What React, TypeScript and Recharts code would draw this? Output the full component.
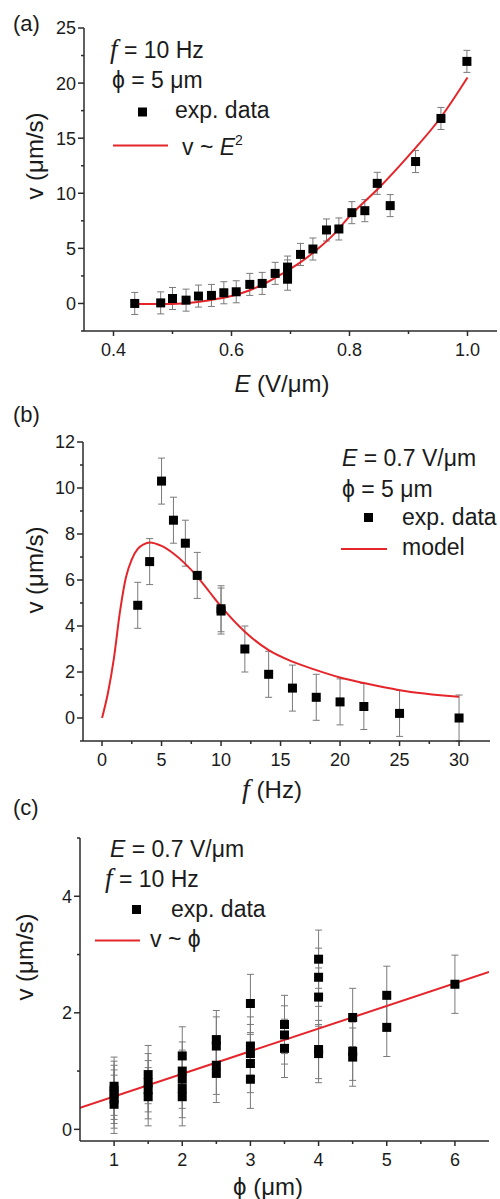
import { ComposedChart, Scatter, Line, XAxis, YAxis, ErrorBar } from 'recharts'

const RED = '#e4262b'
const INK = '#1b1b1b'
const AXIS = '#2b2b2b'
const BAR = '#7a7a7a'
const SANS = '"Liberation Sans", Arial, "DejaVu Sans", sans-serif'
const SERIF = '"Liberation Serif", "Times New Roman", serif'

// (a) v vs E, f = 10 Hz, phi = 5 um
const E_A = [0.436, 0.48, 0.5, 0.523, 0.544, 0.566, 0.587, 0.608, 0.631, 0.652, 0.674, 0.695, 0.695, 0.695, 0.717, 0.738, 0.761, 0.782, 0.804, 0.826, 0.847, 0.869, 0.912, 0.955, 0.999]
const V_A = [0, 0.05, 0.45, 0.3, 0.67, 0.73, 0.97, 1.06, 1.73, 1.82, 2.73, 3.3, 2.95, 2.2, 4.45, 4.94, 6.67, 6.76, 8.24, 8.42, 10.9, 8.88, 12.88, 16.79, 21.97]
const ERR_A = [1, 1, 1, 1, 1, 1, 1, 1, 1, 1, 1, 1, 1, 1, 1, 1, 1, 1, 1, 1, 1, 1, 1, 1, 1]
const FIT_E = [0.436, 0.478, 0.518, 0.546, 0.574, 0.602, 0.631, 0.659, 0.687, 0.716, 0.744, 0.772, 0.8, 0.85, 0.9, 0.955, 1.0]
const FIT_V = [-0.06, -0.06, 0, 0.15, 0.4, 0.7, 1.2, 1.88, 2.73, 3.7, 4.85, 6.2, 7.9, 10.5, 13.4, 16.9, 20.5]
const XA_MAJOR = [0.4, 0.6, 0.8, 1.0]
const XA_MINOR = [0.5, 0.7, 0.9]
const YA_MAJOR = [0, 5, 10, 15, 20, 25]
const YA_MINOR = [-2.5, 2.5, 7.5, 12.5, 17.5, 22.5]

// (b) v vs f, E = 0.7 V/um, phi = 5 um
const F_B = [3, 4, 5, 6, 7, 8, 10, 10, 12, 14, 16, 18, 20, 22, 25, 30]
const V_B = [4.9, 6.8, 10.3, 8.6, 7.6, 6.2, 4.75, 4.65, 3.0, 1.9, 1.3, 0.9, 0.7, 0.5, 0.2, 0.0]
const ERR_B = [1, 1, 1, 1, 1, 1, 1, 1, 1, 1, 1, 1, 1, 1, 1, 1]
const MODEL_F = [0, 0.5, 1, 1.5, 2, 2.5, 3, 3.5, 4, 5, 6, 7, 8, 9, 10, 12, 14, 16, 18, 20, 22, 25, 30]
const MODEL_V = [0, 1.1, 2.6, 4.6, 6.1, 6.9, 7.35, 7.55, 7.63, 7.48, 7.15, 6.7, 6.15, 5.5, 4.85, 3.75, 2.95, 2.45, 2.08, 1.76, 1.52, 1.21, 0.92]
const XB_MAJOR = [0, 5, 10, 15, 20, 25, 30]
const XB_MINOR = [2.5, 7.5, 12.5, 17.5, 22.5, 27.5]
const YB_MAJOR = [0, 2, 4, 6, 8, 10, 12]
const YB_MINOR = [-1, 1, 3, 5, 7, 9, 11]

// (c) v vs phi, E = 0.7 V/um, f = 10 Hz
const PHI_C = [1, 1, 1, 1, 1, 1.5, 1.5, 1.5, 1.5, 2, 2, 2, 2, 2, 2.5, 2.5, 2.5, 2.5, 3, 3, 3, 3, 3, 3.5, 3.5, 3.5, 4, 4, 4, 4, 4, 4.5, 4.5, 4.5, 5, 5, 6]
const V_C = [0.43, 0.52, 0.6, 0.67, 0.74, 0.56, 0.68, 0.8, 0.94, 1.26, 1.0, 0.86, 0.7, 0.56, 1.54, 1.43, 1.1, 0.96, 2.16, 1.43, 1.3, 1.13, 0.86, 1.8, 1.62, 1.39, 2.92, 2.61, 2.27, 1.37, 1.3, 1.92, 1.34, 1.24, 2.3, 1.75, 2.49]
const ERR_C = [0.5, 0.5, 0.5, 0.5, 0.5, 0.5, 0.5, 0.5, 0.5, 0.5, 0.5, 0.5, 0.5, 0.5, 0.5, 0.5, 0.5, 0.5, 0.5, 0.5, 0.5, 0.5, 0.5, 0.5, 0.5, 0.5, 0.5, 0.5, 0.5, 0.5, 0.5, 0.5, 0.5, 0.5, 0.5, 0.5, 0.5]
const LIN_PHI = [0.5, 6.5]
const LIN_V = [0.37, 2.7]
const XC_MAJOR = [1, 2, 3, 4, 5, 6]
const XC_MINOR = [1.5, 2.5, 3.5, 4.5, 5.5]
const YC_MAJOR = [0, 2, 4]
const YC_MINOR = [1, 3, 5]

const pts = (xs: number[], ys: number[], es?: number[]) =>
  xs.map((x, i) => ({ x, y: ys[i], e: es ? es[i] : 0 }))

const square = (p: any) => (
  <rect x={p.cx - 4.5} y={p.cy - 4.5} width={9} height={9} fill="#000" />
)

function yTick(majors: number[], fmt: (v: number) => string = String) {
  return (p: any) => {
    const major = majors.includes(p.payload.value)
    return (
      <g>
        <line x1={p.x} x2={p.x - (major ? 6 : 3)} y1={p.y} y2={p.y} stroke={AXIS} strokeWidth={1.5} />
        {major && (
          <text x={p.x - 8} y={p.y} dy="0.36em" textAnchor="end" fontSize={18} fill={INK} fontFamily={SANS}>
            {fmt(p.payload.value)}
          </text>
        )}
      </g>
    )
  }
}

function xTick(majors: number[], fmt: (v: number) => string = String) {
  return (p: any) => {
    const major = majors.includes(p.payload.value)
    return (
      <g>
        <line x1={p.x} x2={p.x} y1={p.y} y2={p.y + (major ? 5 : 3)} stroke={AXIS} strokeWidth={1.5} />
        {major && (
          <text x={p.x} y={p.y + 25} textAnchor="middle" fontSize={18} fill={INK} fontFamily={SANS}>
            {fmt(p.payload.value)}
          </text>
        )}
      </g>
    )
  }
}

const sortNum = (a: number[], b: number[]) => [...a, ...b].sort((m, n) => m - n)

const axisProps = {
  type: 'number' as const,
  allowDataOverflow: true,
  interval: 0 as const,
  tickLine: false,
  tickSize: 0,
  tickMargin: 0,
  axisLine: { stroke: AXIS, strokeWidth: 1.5 },
}

const txt = { fontFamily: SANS, fill: INK }
const italicF = (size = 27) => (
  <tspan fontFamily={SERIF} fontStyle="italic" fontSize={size}>f</tspan>
)

function Panel({ h, chart, overlay }: { h: number; chart: any; overlay: any }) {
  return (
    <div style={{ position: 'relative', width: 500, height: h }}>
      {chart}
      <svg width={500} height={h} style={{ position: 'absolute', left: 0, top: 0, overflow: 'visible', pointerEvents: 'none' }}>
        {overlay}
      </svg>
    </div>
  )
}

export default function App() {
  return (
    <div style={{ position: 'absolute', left: 0, top: 0, width: 500, height: 1199, background: '#fff' }}>
      <Panel
        h={390}
        chart={
          <ComposedChart width={500} height={390} margin={{ top: 28, right: 3, bottom: 0, left: 0 }}>
            <XAxis {...axisProps} dataKey="x" domain={[0.35, 1.05]} ticks={sortNum(XA_MAJOR, XA_MINOR)} height={59}
              tick={xTick(XA_MAJOR, (v) => v.toFixed(1))} />
            <YAxis {...axisProps} dataKey="y" domain={[-2.5, 25]} ticks={sortNum(YA_MAJOR, YA_MINOR)} width={84}
              tick={yTick(YA_MAJOR)} />
            <Scatter data={pts(E_A, V_A, ERR_A)} shape={square} isAnimationActive={false}>
              <ErrorBar dataKey="e" direction="y" width={3.5} stroke={BAR} strokeWidth={1} />
            </Scatter>
            <Line data={pts(FIT_E, FIT_V)} dataKey="y" type="monotone" stroke={RED} strokeWidth={2} dot={false} isAnimationActive={false} />
          </ComposedChart>
        }
        overlay={
          <g {...txt}>
            <text x={13} y={31} fontSize={22}>(a)</text>
            <text x={110} y={58} fontSize={23}>{italicF()}<tspan> = 10 Hz</tspan></text>
            <text x={112} y={88} fontSize={23}>ϕ = 5 μm</text>
            <rect x={138} y={107.5} width={9} height={9} fill="#000" />
            <text x={175} y={118} fontSize={23}>exp. data</text>
            <line x1={113} x2={168} y1={145.5} y2={145.5} stroke={RED} strokeWidth={2} />
            <text x={182} y={155} fontSize={23}>
              v ~ <tspan fontStyle="italic">E</tspan><tspan dy={-10} fontSize={14}>2</tspan>
            </text>
            <text x={282} y={392} fontSize={24} textAnchor="middle">
              <tspan fontStyle="italic">E</tspan> (V/μm)
            </text>
            <text x={43} y={156} fontSize={24} textAnchor="middle" transform="rotate(-90 43 156)">v (μm/s)</text>
          </g>
        }
      />
      <Panel
        h={410}
        chart={
          <ComposedChart width={500} height={410} margin={{ top: 52, right: 10, bottom: 0, left: 0 }}>
            <XAxis {...axisProps} dataKey="x" domain={[-1.6, 32.6]} ticks={sortNum(XB_MAJOR, XB_MINOR)} height={59}
              tick={xTick(XB_MAJOR)} />
            <YAxis {...axisProps} dataKey="y" domain={[-1, 12]} ticks={sortNum(YB_MAJOR, YB_MINOR)} width={83}
              tick={yTick(YB_MAJOR)} />
            <Scatter data={pts(F_B, V_B, ERR_B)} shape={square} isAnimationActive={false}>
              <ErrorBar dataKey="e" direction="y" width={3.5} stroke={BAR} strokeWidth={1} />
            </Scatter>
            <Line data={pts(MODEL_F, MODEL_V)} dataKey="y" type="monotone" stroke={RED} strokeWidth={2} dot={false} isAnimationActive={false} />
          </ComposedChart>
        }
        overlay={
          <g {...txt}>
            <text x={13} y={31.5} fontSize={22}>(b)</text>
            <text x={342} y={76} fontSize={23}><tspan fontStyle="italic">E</tspan> = 0.7 V/μm</text>
            <text x={342} y={106.5} fontSize={23}>ϕ = 5 μm</text>
            <rect x={364} y={123} width={9} height={9} fill="#000" />
            <text x={402} y={135} fontSize={23}>exp. data</text>
            <line x1={341} x2={387} y1={159} y2={159} stroke={RED} strokeWidth={2} />
            <text x={402} y={165} fontSize={23}>model</text>
            <text x={272} y={408} fontSize={24} textAnchor="middle">{italicF(28)} (Hz)</text>
            <text x={43} y={180} fontSize={24} textAnchor="middle" transform="rotate(-90 43 180)">v (μm/s)</text>
          </g>
        }
      />
      <Panel
        h={399}
        chart={
          <ComposedChart width={500} height={399} margin={{ top: 38, right: 11, bottom: 0, left: 0 }}>
            <XAxis {...axisProps} dataKey="x" domain={[0.5, 6.5]} ticks={sortNum(XC_MAJOR, XC_MINOR)} height={58}
              tick={xTick(XC_MAJOR)} />
            <YAxis {...axisProps} dataKey="y" domain={[-0.2, 5]} ticks={sortNum(YC_MAJOR, YC_MINOR)} width={80}
              tick={yTick(YC_MAJOR)} />
            <Scatter data={pts(PHI_C, V_C, ERR_C)} shape={square} isAnimationActive={false}>
              <ErrorBar dataKey="e" direction="y" width={3.5} stroke={BAR} strokeWidth={1} />
            </Scatter>
            <Line data={pts(LIN_PHI, LIN_V)} dataKey="y" type="linear" stroke={RED} strokeWidth={2} dot={false} isAnimationActive={false} />
          </ComposedChart>
        }
        overlay={
          <g {...txt}>
            <text x={13} y={15} fontSize={22}>(c)</text>
            <text x={110} y={57} fontSize={23}><tspan fontStyle="italic">E</tspan> = 0.7 V/μm</text>
            <text x={105} y={87} fontSize={23}>{italicF()}<tspan> = 10 Hz</tspan></text>
            <rect x={132} y={105} width={9} height={9} fill="#000" />
            <text x={171} y={117} fontSize={23}>exp. data</text>
            <line x1={95} x2={140} y1={140.5} y2={140.5} stroke={RED} strokeWidth={2} />
            <text x={150} y={146.5} fontSize={23}>v ~ ϕ</text>
            <text x={268} y={395} fontSize={24} textAnchor="middle">ϕ (μm)</text>
            <text x={33} y={157} fontSize={24} textAnchor="middle" transform="rotate(-90 33 157)">v (μm/s)</text>
          </g>
        }
      />
    </div>
  )
}
